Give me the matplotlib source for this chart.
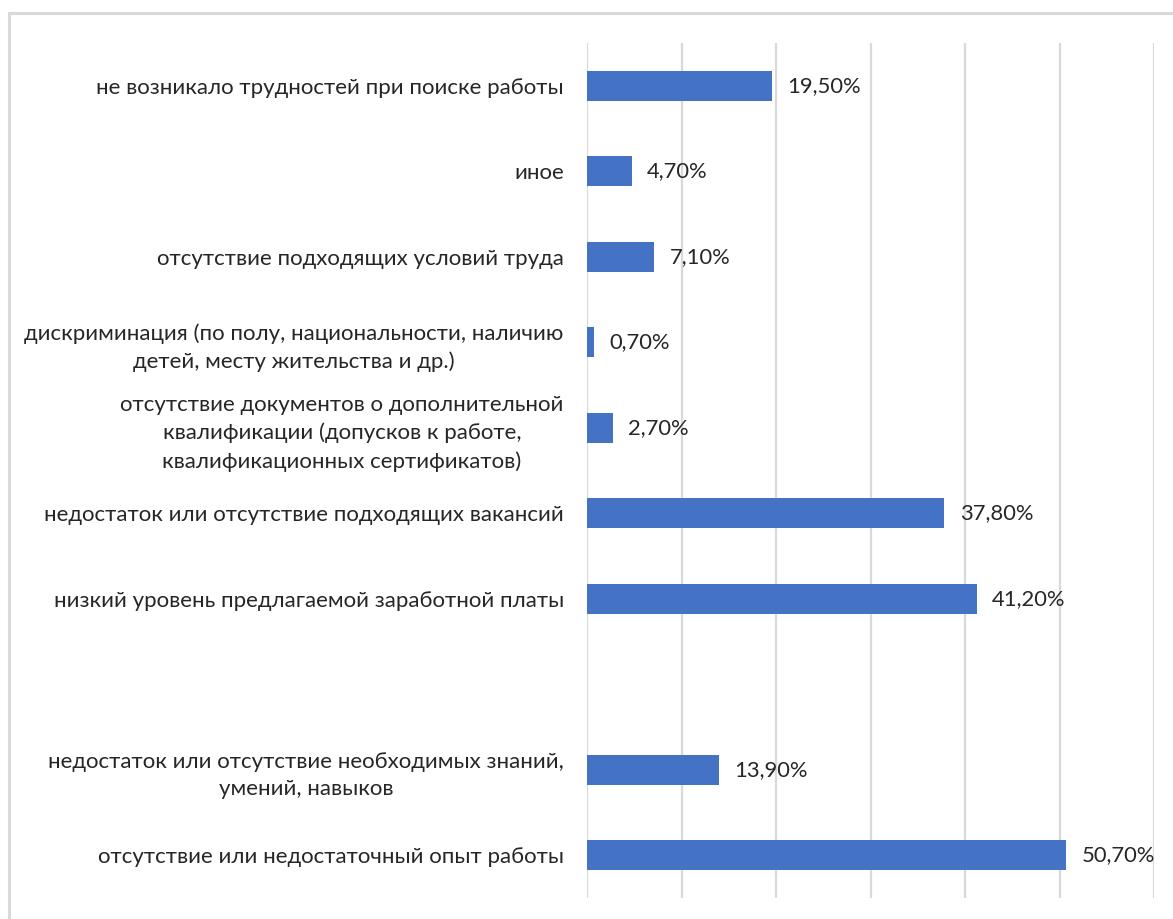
import numpy as np
import matplotlib.pyplot as plt
from matplotlib.patches import Rectangle

plt.rcParams['font.family'] = ['Lato', 'DejaVu Sans']

# categories listed top to bottom; the empty slot stays blank
categories = [
    'не возникало трудностей при поиске работы',
    'иное',
    'отсутствие подходящих условий труда',
    'дискриминация (по полу, национальности, наличию\nдетей, месту жительства и др.)',
    'отсутствие документов о дополнительной\nквалификации (допусков к работе,\nквалификационных сертификатов)',
    'недостаток или отсутствие подходящих вакансий',
    'низкий уровень предлагаемой заработной платы',
    '',
    'недостаток или отсутствие необходимых знаний,\nумений, навыков',
    'отсутствие или недостаточный опыт работы',
]
shares = [19.5, 4.7, 7.1, 0.7, 2.7, 37.8, 41.2, np.nan, 13.9, 50.7]

bar_color = '#4472C4'
text_color = '#262626'
grid_color = '#d9d9d9'

W, H = 1173, 919
fig = plt.figure(figsize=(W / 100, H / 100), dpi=100)
ax = fig.add_axes([587.4 / W, 1 - 898 / H, (1154.2 - 587.4) / W, (898 - 43) / H])

# thin grey chart frame, cut off by the right and bottom edges
fig.patches.append(Rectangle((9 / W, -0.05), 1.2, 1 - 13 / H + 0.05,
                             transform=fig.transFigure, fill=False,
                             edgecolor='#d9d9d9', linewidth=2.2))

ypos = np.arange(len(categories))
vals = np.array(shares)
bars = ax.barh(ypos, np.nan_to_num(vals), height=0.35, color=bar_color, zorder=3)

for y, v in zip(ypos, vals):
    if np.isnan(v):
        continue
    ax.text(v + 1.6, y, ('%.2f%%' % v).replace('.', ','), va='center', ha='left',
            fontsize=15.8, color=text_color, zorder=4)

ax.set_xlim(0, 60)
ax.set_ylim(len(categories) - 0.5, -0.5)
ax.set_xticks(np.arange(0, 61, 10))
ax.xaxis.grid(True, color=grid_color, linewidth=1.6, zorder=0)
ax.tick_params(axis='x', length=0, labelbottom=False)

ax.set_yticks(ypos)
ax.set_yticklabels(categories, fontsize=16, color=text_color,
                   multialignment='center', linespacing=1.45)
ax.tick_params(axis='y', length=0, pad=17)

for s in ax.spines.values():
    s.set_visible(False)

fig.savefig('out.png', dpi=100)
